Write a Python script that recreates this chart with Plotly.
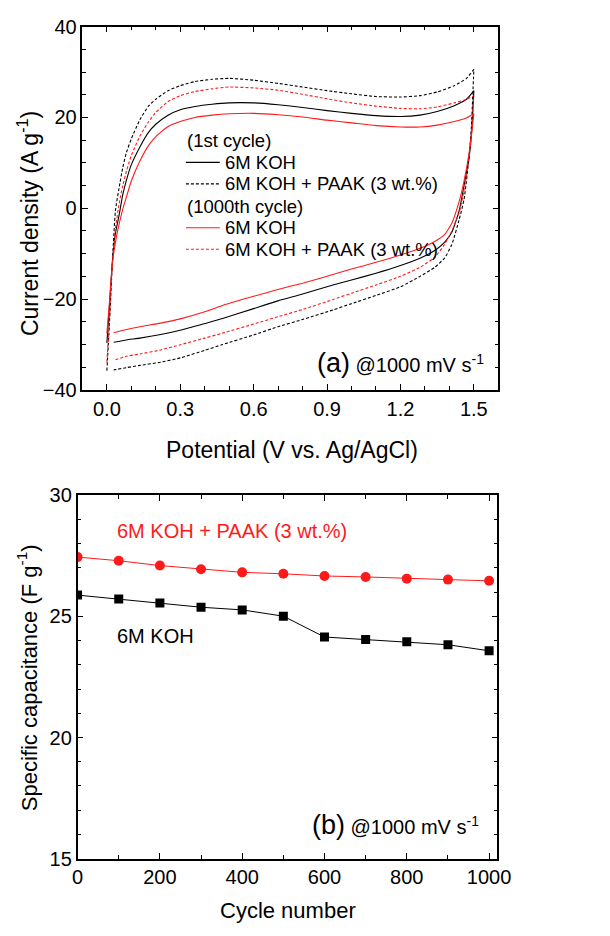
import plotly.graph_objects as go

# ---------------- Panel (a): cyclic voltammograms ----------------
v_anodic = [0, 0.01, 0.022, 0.035, 0.05, 0.065, 0.08, 0.1, 0.135, 0.17, 0.2, 0.25, 0.3, 0.36,
            0.43, 0.5, 0.6, 0.7, 0.8, 0.9, 1.0, 1.1, 1.2, 1.28, 1.35, 1.42, 1.47, 1.5]
v_cathodic = [1.5, 1.49, 1.48, 1.46, 1.44, 1.41, 1.38, 1.34, 1.28, 1.2, 1.1, 1.0, 0.924, 0.8,
              0.699, 0.6, 0.473, 0.4, 0.304, 0.22, 0.135, 0.08, 0.028]

koh_1st_up = [-29.7, -22, -12, -5.5, -1.5, 3, 6.2, 9.6, 13.5, 16.7, 18.5, 20.5, 21.7, 22.4,
              22.9, 23.2, 23.2, 22.8, 22.2, 21.5, 20.9, 20.4, 20.2, 20.5, 21.3, 22.6, 24, 25.9]
koh_1st_down = [25.9, 16, 11, 5, -0.5, -5.3, -7.5, -9.3, -11.0, -12.6, -14.3, -15.8, -16.9, -18.9,
                -20.4, -22.1, -24.3, -25.4, -26.8, -27.8, -28.6, -29.0, -29.5]

paak_1st_up = [-35.8, -26, -12.5, -0.5, 4.5, 9, 12.3, 15.3, 19.5, 22.5, 24.0, 25.9, 27.0, 27.9,
               28.4, 28.6, 28.2, 27.5, 26.7, 25.9, 25.2, 24.6, 24.5, 24.8, 25.6, 27, 28.6, 30.6]
paak_1st_down = [30.6, 18, 11, 2, -2.5, -8, -11, -13, -15, -17.3, -19.2, -21, -22.4, -24.5,
                 -26.1, -27.9, -30, -31.3, -32.9, -33.9, -34.6, -35.1, -35.6]

koh_1000_up = [-27.6, -21, -12.5, -7.5, -3.5, -0.2, 2.5, 6, 10.4, 13.8, 15.8, 18, 19.1, 20,
               20.5, 20.8, 20.9, 20.6, 20.1, 19.4, 18.8, 18.2, 17.9, 17.9, 18.3, 19.1, 19.9, 20.8]
koh_1000_down = [20.8, 16, 12, 6, 1.5, -3.3, -5.8, -7.3, -8.8, -10.3, -11.9, -13.4, -14.6, -16.5,
                 -17.9, -19.4, -21.4, -22.8, -24.3, -25.3, -26.1, -26.7, -27.4]

paak_1000_up = [-34, -25, -12.5, -4.5, 1, 5, 8.2, 11.6, 15.9, 19.0, 21.1, 23.5, 24.8, 25.7,
                26.3, 26.7, 26.5, 26, 25.1, 24.1, 23.2, 22.5, 22, 21.9, 22.3, 23.2, 24, 24.8]
paak_1000_down = [24.8, 17, 11, 4, -1, -5, -8, -10.8, -13, -15, -16.9, -18.7, -20.1, -22.3,
                  -23.9, -25.5, -27.5, -28.6, -30, -31.2, -32.1, -32.6, -33.5]

# ---------------- Panel (b): capacitance retention ----------------
cycles = [0, 100, 200, 300, 400, 500, 600, 700, 800, 900, 1000]
cap_paak = [27.45, 27.3, 27.1, 26.95, 26.82, 26.76, 26.67, 26.63, 26.56, 26.52, 26.47]
cap_koh = [25.88, 25.72, 25.55, 25.38, 25.27, 25.01, 24.15, 24.05, 23.95, 23.83, 23.58]

# legend entries of panel (a)
legend_rows = ["(1st cycle)", "6M KOH", "6M KOH + PAAK (3 wt.%)",
               "(1000th cycle)", "6M KOH", "6M KOH + PAAK (3 wt.%)"]

FONT = "Arial, Liberation Sans, sans-serif"
W, H = 610, 936
RED = "#ff1a1a"
DASH = "3px,2px"

fig = go.Figure()

cv_series = [
    (koh_1st_up, koh_1st_down, "black", "solid"),
    (paak_1st_up, paak_1st_down, "black", DASH),
    (koh_1000_up, koh_1000_down, RED, "solid"),
    (paak_1000_up, paak_1000_down, RED, DASH),
]
for up, down, col, dash in cv_series:
    fig.add_trace(go.Scatter(
        x=v_anodic + v_cathodic, y=up + down, mode="lines", showlegend=False,
        line=dict(color=col, width=1.1, dash=dash, shape="spline", smoothing=0.5),
        xaxis="x", yaxis="y"))

fig.add_trace(go.Scatter(
    x=cycles, y=cap_paak, mode="lines+markers", showlegend=False,
    line=dict(color=RED, width=1), marker=dict(symbol="circle", size=10, color=RED),
    xaxis="x2", yaxis="y2"))
fig.add_trace(go.Scatter(
    x=cycles, y=cap_koh, mode="lines+markers", showlegend=False,
    line=dict(color="black", width=1), marker=dict(symbol="square", size=9, color="black"),
    xaxis="x2", yaxis="y2"))


def px_x(a, b):
    return [a / W, b / W]


def px_y(top, bottom):
    return [(H - bottom) / H, (H - top) / H]


axis_common = dict(
    showline=True, linecolor="black", linewidth=1.5, mirror="ticks",
    ticks="inside", ticklen=6, tickwidth=1.3, tickcolor="black",
    showgrid=False, zeroline=False,
    tickfont=dict(size=20, color="black", family=FONT),
)
minor_common = dict(ticks="inside", ticklen=4, tickwidth=1.2, tickcolor="black")

fig.update_layout(
    width=W, height=H, margin=dict(l=0, r=0, t=0, b=0),
    paper_bgcolor="white", plot_bgcolor="white",
    font=dict(family=FONT, color="black"),
    showlegend=False,
    xaxis=dict(domain=px_x(79, 509), range=[-0.1, 1.6], tickvals=[0, 0.3, 0.6, 0.9, 1.2, 1.5],
               tickformat=".1f", anchor="y", minor=dict(dtick=0.1, tick0=0, **minor_common),
               **axis_common),
    yaxis=dict(domain=px_y(16, 388), range=[-40, 40], dtick=20, tick0=0, anchor="x",
               minor=dict(dtick=5, tick0=0, **minor_common), **axis_common),
    xaxis2=dict(domain=px_x(74, 508), range=[0, 1020], dtick=200, tick0=0, anchor="y2",
                minor=dict(dtick=100, tick0=0, **minor_common), **axis_common),
    yaxis2=dict(domain=px_y(496, 868), range=[15, 30], dtick=5, tick0=0, anchor="x2",
                minor=dict(dtick=1, tick0=0, **minor_common), **axis_common),
)


def ann(text, xpx, ypx, size, color="black", xanchor="center", angle=0):
    fig.add_annotation(text=text, x=xpx / W, y=(H - ypx) / H, xref="paper", yref="paper",
                       showarrow=False, xanchor=xanchor, yanchor="middle", textangle=angle,
                       font=dict(size=size, color=color, family=FONT))


# manual legend for panel (a)
row_y = [133, 155, 177, 200, 222, 244]
samples = [None, ("black", "solid"), ("black", DASH), None, (RED, "solid"), (RED, DASH)]
for label, yy, smp in zip(legend_rows, row_y, samples):
    if smp is None:
        ann(label, 185, yy, 18.5, xanchor="left")
    else:
        fig.add_shape(type="line", xref="paper", yref="paper",
                      x0=186 / W, x1=221 / W, y0=(H - yy) / H, y1=(H - yy) / H,
                      line=dict(color=smp[0], width=1.1, dash=smp[1]))
        ann(label, 224, yy, 18.5, xanchor="left")

ann("Potential (V vs. Ag/AgCl)", 296, 450, 23)
ann("Current density (A g<sup>-1</sup>)", 23, 218, 23, angle=-90)
ann("<span style='font-size:27px'>(a)</span> @1000 mV s<sup>-1</sup>", 496, 360, 20, xanchor="right")

ann("Cycle number", 292, 921, 22)
ann("Specific capacitance (F g<sup>-1</sup>)", 22, 683, 22, angle=-90)
ann("6M KOH + PAAK (3 wt.%)", 113, 533, 20, color=RED, xanchor="left")
ann("6M KOH", 113, 640, 20, xanchor="left")
ann("<span style='font-size:27px'>(b)</span> @1000 mV s<sup>-1</sup>", 491, 834, 20, xanchor="right")

fig.write_html("out.html")
